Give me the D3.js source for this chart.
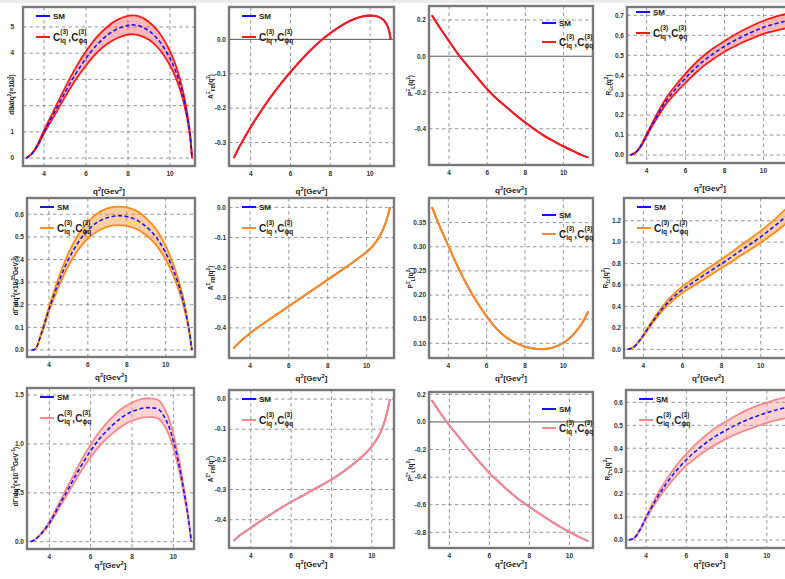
<!DOCTYPE html>
<html>
<head>
<meta charset="utf-8">
<script src="https://cdn.jsdelivr.net/npm/d3@7"></script>
<style>
body { margin: 0; background: #fff; }
svg text { font-family: "Liberation Sans", Arial, sans-serif; }
</style>
</head>
<body>
<svg id="chart" width="785" height="579"></svg>
<script>
// ---- data (q^2 in GeV^2) ----
// row 1 : Xi
var rateXiQ  = [3.15, 3.4, 3.7, 4, 4.5, 5, 5.5, 6, 6.5, 7, 7.5, 8, 8.2, 8.5, 9, 9.5, 10, 10.3, 10.6, 10.8, 10.95, 11.05];
var rateXiSM = [0, 0.15, 0.5, 1.0, 1.75, 2.5, 3.2, 3.8, 4.3, 4.68, 4.93, 5.06, 5.08, 5.05, 4.85, 4.45, 3.8, 3.25, 2.45, 1.7, 0.9, 0];
var rateXiUp = [0, 0.16, 0.53, 1.06, 1.87, 2.68, 3.43, 4.07, 4.6, 5.0, 5.28, 5.42, 5.44, 5.41, 5.19, 4.77, 4.07, 3.48, 2.62, 1.82, 0.96, 0];
var rateXiLo = [0, 0.14, 0.47, 0.94, 1.63, 2.33, 2.98, 3.53, 4.0, 4.35, 4.58, 4.71, 4.72, 4.69, 4.51, 4.14, 3.53, 3.02, 2.28, 1.58, 0.84, 0];

var afbXiQ   = [3.15, 3.5, 4, 4.5, 5, 5.5, 6, 6.5, 7, 7.5, 8, 8.5, 9, 9.5, 10, 10.4, 10.7, 10.9, 11.0, 11.03];
var afbXiVal = [-0.345, -0.305, -0.255, -0.21, -0.168, -0.13, -0.095, -0.062, -0.032, -0.005, 0.018, 0.038, 0.054, 0.065, 0.069, 0.066, 0.055, 0.035, 0.012, 0];

var plXiQ    = [3.1, 3.5, 4, 4.5, 5, 5.5, 6, 6.5, 7, 7.5, 8, 8.5, 9, 9.5, 10, 10.5, 11, 11.3];
var plXiVal  = [0.226, 0.16, 0.083, 0.008, -0.057, -0.12, -0.182, -0.235, -0.28, -0.325, -0.366, -0.405, -0.44, -0.47, -0.498, -0.523, -0.547, -0.559];

var ratioXiQ  = [3.15, 3.4, 3.7, 4, 4.5, 5, 5.5, 6, 6.5, 7, 7.5, 8, 8.5, 9, 9.5, 10, 10.5, 11, 11.3];
var ratioXiSM = [0, 0.01, 0.045, 0.1, 0.19, 0.27, 0.332, 0.386, 0.435, 0.478, 0.513, 0.545, 0.573, 0.598, 0.62, 0.64, 0.655, 0.668, 0.675];
var ratioXiUp = [0, 0.011, 0.048, 0.105, 0.2, 0.285, 0.351, 0.408, 0.46, 0.504, 0.54, 0.572, 0.602, 0.628, 0.652, 0.673, 0.69, 0.704, 0.712];
var ratioXiLo = [0, 0.009, 0.042, 0.095, 0.18, 0.255, 0.312, 0.362, 0.41, 0.452, 0.486, 0.518, 0.544, 0.568, 0.588, 0.607, 0.62, 0.632, 0.638];

// row 2 : Sigma
var rateSigQ  = [3.1, 3.3, 3.6, 4, 4.5, 5, 5.5, 6, 6.5, 7, 7.5, 8, 8.5, 9, 9.5, 10, 10.5, 10.8, 11, 11.2, 11.35];
var rateSigSM = [0, 0.005, 0.07, 0.18, 0.3, 0.4, 0.475, 0.53, 0.565, 0.585, 0.593, 0.59, 0.575, 0.545, 0.5, 0.43, 0.33, 0.25, 0.18, 0.09, 0];
var rateSigUp = [0, 0.005, 0.075, 0.19, 0.32, 0.428, 0.508, 0.567, 0.605, 0.626, 0.634, 0.631, 0.615, 0.583, 0.535, 0.46, 0.353, 0.268, 0.193, 0.096, 0];
var rateSigLo = [0, 0.005, 0.065, 0.17, 0.28, 0.372, 0.442, 0.493, 0.525, 0.544, 0.552, 0.549, 0.535, 0.507, 0.465, 0.4, 0.307, 0.232, 0.167, 0.084, 0];

var afbSigQ   = [3.15, 3.5, 4, 4.5, 5, 5.5, 6, 6.5, 7, 7.5, 8, 8.5, 9, 9.5, 10, 10.3, 10.6, 10.8, 11.0, 11.15, 11.2];
var afbSigVal = [-0.468, -0.445, -0.418, -0.394, -0.372, -0.35, -0.328, -0.306, -0.284, -0.262, -0.24, -0.218, -0.196, -0.173, -0.148, -0.13, -0.104, -0.08, -0.047, -0.015, 0];

var plSigQ    = [3.15, 3.5, 4, 4.5, 5, 5.5, 6, 6.5, 7, 7.5, 8, 8.5, 9, 9.5, 10, 10.5, 11, 11.3];
var plSigVal  = [0.382, 0.347, 0.302, 0.258, 0.219, 0.185, 0.156, 0.131, 0.113, 0.101, 0.093, 0.089, 0.088, 0.092, 0.101, 0.117, 0.143, 0.166];

var ratioSigQ  = [3.2, 3.5, 3.8, 4, 4.5, 5, 5.5, 6, 6.5, 7, 7.5, 8, 8.5, 9, 9.5, 10, 10.5, 11, 11.3];
var ratioSigSM = [0, 0.02, 0.08, 0.13, 0.265, 0.385, 0.48, 0.557, 0.62, 0.68, 0.74, 0.8, 0.86, 0.925, 0.985, 1.05, 1.12, 1.195, 1.245];
var ratioSigUp = [0, 0.021, 0.083, 0.137, 0.278, 0.405, 0.505, 0.587, 0.654, 0.717, 0.78, 0.842, 0.905, 0.973, 1.036, 1.105, 1.18, 1.26, 1.313];
var ratioSigLo = [0, 0.019, 0.077, 0.123, 0.252, 0.365, 0.455, 0.527, 0.586, 0.643, 0.7, 0.758, 0.815, 0.877, 0.934, 0.995, 1.06, 1.13, 1.177];

// row 3 : Sigma*
var rateSigSQ  = [3.1, 3.3, 3.6, 4, 4.5, 5, 5.5, 6, 6.5, 7, 7.5, 8, 8.5, 8.9, 9.3, 9.7, 10, 10.3, 10.5, 10.7, 10.87];
var rateSigSSM = [0, 0.02, 0.08, 0.19, 0.38, 0.57, 0.76, 0.93, 1.07, 1.18, 1.27, 1.33, 1.365, 1.37, 1.35, 1.22, 1.03, 0.76, 0.53, 0.28, 0];
var rateSigSUp = [0, 0.021, 0.086, 0.203, 0.407, 0.61, 0.813, 0.995, 1.145, 1.263, 1.359, 1.423, 1.461, 1.466, 1.445, 1.305, 1.102, 0.813, 0.567, 0.3, 0];
var rateSigSLo = [0, 0.019, 0.074, 0.177, 0.353, 0.53, 0.707, 0.865, 0.995, 1.097, 1.181, 1.237, 1.269, 1.274, 1.256, 1.135, 0.958, 0.707, 0.493, 0.26, 0];

var afbSigSQ   = [3.15, 3.5, 4, 4.5, 5, 5.5, 6, 6.5, 7, 7.5, 8, 8.5, 9, 9.5, 10, 10.3, 10.5, 10.7, 10.82, 10.9];
var afbSigSVal = [-0.47, -0.45, -0.427, -0.404, -0.382, -0.361, -0.341, -0.323, -0.304, -0.286, -0.267, -0.245, -0.22, -0.192, -0.157, -0.128, -0.1, -0.06, -0.025, 0];

var plSigSQ    = [3.12, 3.5, 4, 4.5, 5, 5.5, 6, 6.5, 7, 7.5, 8, 8.5, 9, 9.5, 10, 10.5, 10.95];
var plSigSVal  = [0.157, 0.075, -0.025, -0.115, -0.205, -0.29, -0.37, -0.44, -0.505, -0.565, -0.615, -0.665, -0.712, -0.757, -0.798, -0.835, -0.865];

var ratioSigSQ  = [3.15, 3.4, 3.7, 4, 4.5, 5, 5.5, 6, 6.5, 7, 7.5, 8, 8.5, 9, 9.5, 10, 10.5, 11];
var ratioSigSSM = [0, 0.008, 0.045, 0.098, 0.178, 0.245, 0.302, 0.35, 0.39, 0.425, 0.455, 0.48, 0.503, 0.523, 0.54, 0.555, 0.568, 0.578];
var ratioSigSUp = [0, 0.009, 0.047, 0.103, 0.19, 0.263, 0.325, 0.376, 0.42, 0.459, 0.492, 0.518, 0.544, 0.566, 0.585, 0.599, 0.613, 0.624];
var ratioSigSLo = [0, 0.007, 0.043, 0.093, 0.166, 0.227, 0.279, 0.324, 0.36, 0.391, 0.418, 0.442, 0.462, 0.48, 0.495, 0.511, 0.523, 0.532];

// ---- ticks ----
var xTicks = [4, 6, 8, 10];
var rateXiTicks = [0, 1, 2, 3, 4, 5];
var afbTicks = [0, -0.1, -0.2, -0.3, -0.4];
var plXiTicks = [0.2, 0, -0.2, -0.4];
var ratioXiTicks = [0, 0.1, 0.2, 0.3, 0.4, 0.5, 0.6, 0.7];
var rateSigTicks = [0, 0.1, 0.2, 0.3, 0.4, 0.5, 0.6];
var plSigTicks = [0.10, 0.15, 0.20, 0.25, 0.30, 0.35];
var ratioSigTicks = [0, 0.2, 0.4, 0.6, 0.8, 1.0, 1.2];
var rateSigSTicks = [0, 0.5, 1.0, 1.5];
var plSigSTicks = [0.2, 0, -0.2, -0.4, -0.6, -0.8];
var ratioSigSTicks = [0, 0.1, 0.2, 0.3, 0.4, 0.5, 0.6];

var rowTag = ['\u039E', '\u03A3', '\u03A3*'];
var rowColor = ['#ff1a1a', '#ff8c1a', '#f7898c'];
var rowFill = ['rgba(255,40,40,0.33)', 'rgba(255,140,26,0.42)', 'rgba(247,137,140,0.38)'];
var xLabelGap = [28, 23, 19];

function rateLabel(r) {
	return r === 0
		? [['dB/dq', 0], ['2', 1], ['(\u00D710', 0], ['-3', 1], [')', 0]]
		: [['d\u0393/dq', 0], ['2', 1], ['(\u00D710', 0], ['-15', 1], ['GeV', 0], ['-1', 1], [')', 0]];
}

var panels = [
	{ row: 0, col: 0, frame: [23, 7, 172, 159], x: [3.0, 11.19], y: [-0.3, 5.76], ticks: rateXiTicks, fmt: 'd', tickGap: 9,
		q: rateXiQ, sm: rateXiSM, up: rateXiUp, lo: rateXiLo },
	{ row: 0, col: 1, frame: [229, 7, 165, 159], x: [2.91, 11.2], y: [-0.368, 0.094], ticks: afbTicks.slice(0, 4), fmt: '.1f', zero: true,
		q: afbXiQ, sm: afbXiVal },
	{ row: 0, col: 2, frame: [429, 6, 164, 159], x: [2.95, 11.54], y: [-0.6, 0.277], ticks: plXiTicks, fmt: '.1f', zero: true,
		q: plXiQ, sm: plXiVal },
	{ row: 0, col: 3, frame: [627, 7, 166, 156], x: [2.99, 11.52], y: [-0.04, 0.742], ticks: ratioXiTicks, fmt: '.1f', legendAt: [9, 5],
		q: ratioXiQ, sm: ratioXiSM, up: ratioXiUp, lo: ratioXiLo },

	{ row: 1, col: 0, frame: [27, 198, 168, 159], x: [2.87, 11.51], y: [-0.031, 0.672], ticks: rateSigTicks, fmt: '.1f',
		q: rateSigQ, sm: rateSigSM, up: rateSigUp, lo: rateSigLo },
	{ row: 1, col: 1, frame: [229, 198, 165, 160], x: [2.92, 11.41], y: [-0.5, 0.031], ticks: afbTicks, fmt: '.1f',
		q: afbSigQ, sm: afbSigVal },
	{ row: 1, col: 2, frame: [429, 198, 164, 160], x: [2.99, 11.55], y: [0.0696, 0.401], ticks: plSigTicks, fmt: '.2f',
		q: plSigQ, sm: plSigVal },
	{ row: 1, col: 3, frame: [624, 198, 168, 160], x: [3.01, 11.6], y: [-0.081, 1.412], ticks: ratioSigTicks, fmt: '.1f',
		q: ratioSigQ, sm: ratioSigSM, up: ratioSigUp, lo: ratioSigLo },

	{ row: 2, col: 0, frame: [27, 388, 167, 161], x: [2.92, 11.0], y: [-0.075, 1.572], ticks: rateSigSTicks, fmt: '.1f',
		q: rateSigSQ, sm: rateSigSSM, up: rateSigSUp, lo: rateSigSLo },
	{ row: 2, col: 1, frame: [229, 390, 165, 158], x: [2.92, 11.1], y: [-0.494, 0.03], ticks: afbTicks, fmt: '.1f',
		q: afbSigSQ, sm: afbSigSVal },
	{ row: 2, col: 2, frame: [429, 392, 164, 156], x: [2.98, 11.18], y: [-0.914, 0.217], ticks: plSigSTicks, fmt: '.1f', zero: true,
		q: plSigSQ, sm: plSigSVal },
	{ row: 2, col: 3, frame: [626, 390, 167, 158], x: [3.0, 11.3], y: [-0.035, 0.654], ticks: ratioSigSTicks, fmt: '.1f',
		q: ratioSigSQ, sm: ratioSigSSM, up: ratioSigSUp, lo: ratioSigSLo }
];

var svg = d3.select('#chart');

svg.append('rect').attr('width', 785).attr('height', 3).attr('fill', '#ececec');

// write text with sup (1) / sub (-1) parts into a text element
function richText(sel, parts, size) {
	var shift = 0;
	parts.forEach(function(p) {
		var target = p[1] === 1 ? -0.42 * size : p[1] === -1 ? 0.3 * size : 0;
		sel.append('tspan')
			.attr('dy', target - shift)
			.attr('font-size', p[1] ? size * 0.72 : size)
			.text(p[0]);
		shift = target;
	});
}

function yLabel(p) {
	var tag = rowTag[p.row];
	if (p.col === 0) return rateLabel(p.row);
	if (p.col === 1) return [['A', 0], [tag, 1], ['FB', -1], ['(q', 0], ['2', 1], [')', 0]];
	if (p.col === 2) return [['P', 0], [tag, 1], ['L', -1], ['(q', 0], ['2', 1], [')', 0]];
	return [['R', 0], [tag + 'c', -1], ['(q', 0], ['2', 1], [')', 0]];
}

// C^(3)_sub label with stacked super/subscripts
function coeff(g, x, y, sub) {
	var c = g.append('text').attr('x', x).attr('y', y).attr('font-size', 10).attr('font-weight', 'bold').attr('fill', '#222').text('C');
	var w = c.node().getComputedTextLength();
	var sp = g.append('text').attr('x', x + w).attr('y', y - 7).attr('font-size', 6.5).attr('font-weight', 'bold').attr('fill', '#222').text('(3)');
	var sb = g.append('text').attr('x', x + w).attr('y', y + 2).attr('font-size', 6.5).attr('font-weight', 'bold').attr('fill', '#222').text(sub);
	return x + w + Math.max(sp.node().getComputedTextLength(), sb.node().getComputedTextLength());
}

panels.forEach(function(p, i) {
	var fl = p.frame[0], ft = p.frame[1], fw = p.frame[2], fh = p.frame[3];
	var color = rowColor[p.row];
	var g = svg.append('g').attr('transform', 'translate(' + fl + ',' + ft + ')');
	var x = d3.scaleLinear().domain(p.x).range([0, fw]);
	var y = d3.scaleLinear().domain(p.y).range([fh, 0]);
	var fmt = d3.format(p.fmt);

	// grid
	g.append('g').selectAll('line').data(xTicks).join('line')
		.attr('x1', function(d) { return x(d); }).attr('x2', function(d) { return x(d); })
		.attr('y1', 0).attr('y2', fh)
		.attr('stroke', '#8a8a8a').attr('stroke-width', 0.9).attr('stroke-dasharray', '3.5,3');
	g.append('g').selectAll('line').data(p.ticks.filter(function(d) { return !(p.zero && d === 0); })).join('line')
		.attr('y1', function(d) { return y(d); }).attr('y2', function(d) { return y(d); })
		.attr('x1', 0).attr('x2', fw)
		.attr('stroke', '#8a8a8a').attr('stroke-width', 0.9).attr('stroke-dasharray', '3.5,3');
	if (p.zero) {
		g.append('line').attr('x1', 0).attr('x2', fw).attr('y1', y(0)).attr('y2', y(0))
			.attr('stroke', '#555').attr('stroke-width', 1);
	}

	g.append('clipPath').attr('id', 'clip' + i)
		.append('rect').attr('width', fw).attr('height', fh);
	var plot = g.append('g').attr('clip-path', 'url(#clip' + i + ')');

	var line = d3.line()
		.x(function(d, j) { return x(p.q[j]); })
		.y(function(d) { return y(d); })
		.curve(d3.curveCatmullRom.alpha(0.5));

	if (p.up) {
		var area = d3.area()
			.x(function(d, j) { return x(p.q[j]); })
			.y0(function(d, j) { return y(p.lo[j]); })
			.y1(function(d) { return y(d); })
			.curve(d3.curveCatmullRom.alpha(0.5));
		plot.append('path').attr('d', area(p.up)).attr('fill', rowFill[p.row]);
		[p.up, p.lo].forEach(function(s) {
			plot.append('path').attr('d', line(s)).attr('fill', 'none')
				.attr('stroke', color).attr('stroke-width', 1.8);
		});
		plot.append('path').attr('d', line(p.sm)).attr('fill', 'none')
			.attr('stroke', '#1414ff').attr('stroke-width', 1.6).attr('stroke-dasharray', '4,2.5');
	} else {
		plot.append('path').attr('d', line(p.sm)).attr('fill', 'none')
			.attr('stroke', '#1414ff').attr('stroke-width', 1.6);
		plot.append('path').attr('d', line(p.sm)).attr('fill', 'none')
			.attr('stroke', color).attr('stroke-width', 2.1);
	}

	// frame
	g.append('rect').attr('width', fw).attr('height', fh)
		.attr('fill', 'none').attr('stroke', '#7a7a7a').attr('stroke-width', 2.4);

	// tick labels
	g.append('g').selectAll('text').data(p.ticks).join('text')
		.attr('x', -(p.tickGap || 3)).attr('y', function(d) { return y(d) + 2.3; })
		.attr('text-anchor', 'end').attr('font-size', 6.5).attr('font-weight', 'bold').attr('fill', '#333')
		.text(function(d) { return fmt(d).replace('\u2212', '-'); });
	g.append('g').selectAll('text').data(xTicks).join('text')
		.attr('x', function(d) { return x(d); }).attr('y', fh + 9.5)
		.attr('text-anchor', 'middle').attr('font-size', 6.5).attr('font-weight', 'bold').attr('fill', '#333')
		.text(function(d) { return d; });

	// axis labels
	var xl = g.append('text').attr('x', fw / 2).attr('y', fh + xLabelGap[p.row])
		.attr('text-anchor', 'middle').attr('font-weight', 'bold').attr('fill', '#222');
	richText(xl, [['q', 0], ['2', 1], ['[Gev', 0], ['2', 1], [']', 0]], 8);

	var yl = g.append('text')
		.attr('transform', 'translate(' + (p.col === 0 ? -9 : -16) + ',' + (fh / 2 + (p.col === 0 ? 8 : 0)) + ') rotate(-90)')
		.attr('text-anchor', 'middle').attr('font-weight', 'bold').attr('fill', '#222');
	richText(yl, yLabel(p), 6.5);

	// legend
	var lx, ly, gap;
	if (p.col === 2) { lx = fw - 51; ly = 17; gap = 19; }
	else if (p.legendAt) { lx = p.legendAt[0]; ly = p.legendAt[1]; gap = 21; }
	else { lx = 13; ly = 9; gap = 21; }
	var lg = g.append('g').attr('transform', 'translate(' + lx + ',' + ly + ')');
	lg.append('line').attr('x1', 0).attr('x2', 14).attr('stroke', '#1414ff').attr('stroke-width', 2);
	lg.append('text').attr('x', 17).attr('y', 3).attr('font-size', 8).attr('font-weight', 'bold').attr('fill', '#222').text('SM');
	lg.append('line').attr('x1', 0).attr('x2', 14).attr('y1', gap).attr('y2', gap)
		.attr('stroke', color).attr('stroke-width', 2);
	var nx = coeff(lg, 17, gap + 4, 'lq');
	lg.append('text').attr('x', nx).attr('y', gap + 4).attr('font-size', 10).attr('font-weight', 'bold').attr('fill', '#222').text(',');
	coeff(lg, nx + 3, gap + 4, '\u03D5q');
});
</script>
</body>
</html>
